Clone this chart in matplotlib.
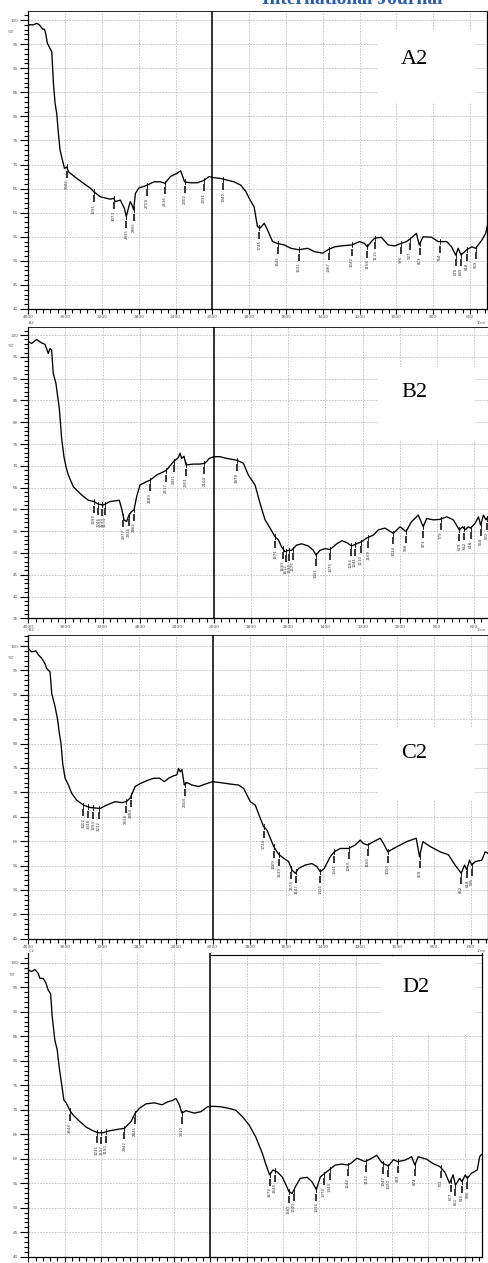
import numpy as np
import matplotlib
matplotlib.use("Agg")
import matplotlib.pyplot as plt
from matplotlib.patches import Rectangle
from matplotlib.lines import Line2D
from matplotlib.ticker import FixedLocator, MultipleLocator, FuncFormatter

# ---------------- spectra (wavenumber in 1/cm, transmittance in %T) ----------------
A_wn = [4000, 3945, 3909, 3880, 3844, 3825, 3811, 3793, 3764, 3745, 3727, 3709, 3691, 3673, 3655,
        3629, 3607, 3582, 3564, 3473, 3400, 3327, 3291, 3218, 3109, 3073, 3055, 3000, 2956, 2935,
        2909, 2891, 2873, 2855, 2836, 2800, 2709, 2636, 2564, 2516, 2455, 2382, 2345, 2327, 2302,
        2236, 2164, 2091, 2036, 2000, 1955, 1882, 1845, 1818, 1800, 1773, 1755, 1740, 1718, 1700,
        1673, 1645, 1609, 1573, 1531, 1482, 1445, 1400, 1367, 1336, 1300, 1242, 1200, 1173, 1158,
        1136, 1118, 1082, 1045, 1009, 976, 945, 927, 900, 891, 876, 855, 809, 773, 727,
        700, 678, 664, 649, 618, 591, 569, 536, 515, 504]
A_t = [99.0, 99.0, 99.3, 99.0, 98.1, 98.1, 97.2, 95.2, 94.1, 93.4, 86.9, 82.7, 80.6, 76.5, 73.0,
       70.9, 69.2, 69.5, 68.5, 67.1, 66.1, 65.1, 64.4, 63.3, 62.8, 63.0, 62.3, 62.6, 60.9, 59.2,
       61.2, 62.3, 61.6, 60.6, 64.0, 65.1, 65.7, 66.4, 66.4, 66.1, 67.5, 68.2, 68.7, 67.8, 66.4,
       66.2, 66.2, 66.7, 67.5, 67.3, 67.1, 66.4, 65.7, 64.4, 63.0, 61.2, 57.1, 56.8, 57.8, 56.4,
       54.0, 53.6, 53.3, 52.6, 52.3, 52.6, 51.9, 51.6, 52.4, 52.9, 53.1, 53.3, 54.0, 53.6, 52.9,
       54.0, 54.7, 54.9, 53.3, 53.1, 53.6, 54.0, 54.5, 55.4, 55.7, 53.3, 55.0, 54.9, 54.0, 54.0,
       52.9, 51.2, 52.6, 51.2, 52.3, 52.9, 52.6, 54.3, 55.7, 57.6]
A_peaks = [3582, 3291, 3073, 2935, 2855, 2709, 2516, 2302, 2091, 1940, 1745, 1645, 1531, 1367,
           1242, 1158, 1115, 976, 927, 873, 764, 678, 649, 618, 569]

B_wn = [4000, 3964, 3910, 3856, 3820, 3785, 3767, 3749, 3731, 3702, 3688, 3666, 3641, 3616, 3594,
        3569, 3515, 3425, 3354, 3293, 3246, 3192, 3120, 3020, 2995, 2969, 2941, 2916, 2887, 2862,
        2833, 2797, 2725, 2689, 2617, 2517, 2438, 2384, 2366, 2348, 2323, 2301, 2223, 2151, 2097,
        2050, 2000, 1968, 1932, 1878, 1842, 1815, 1779, 1752, 1725, 1698, 1671, 1653, 1636, 1618,
        1600, 1582, 1555, 1528, 1492, 1465, 1451, 1429, 1402, 1375, 1339, 1312, 1286, 1259, 1232,
        1205, 1178, 1142, 1115, 1079, 1034, 998, 966, 936, 909, 900, 873, 855, 819, 783,
        747, 711, 679, 661, 648, 630, 618, 594, 576, 564, 549, 535, 525]
B_t = [98.5, 98.1, 99.0, 98.2, 97.9, 95.8, 96.9, 96.6, 91.2, 88.9, 86.6, 83.2, 76.3, 72.1, 69.8,
       67.9, 65.2, 63.3, 62.1, 61.8, 61.2, 61.0, 61.8, 62.1, 60.2, 57.6, 57.2, 58.7, 59.5, 59.9,
       62.9, 65.6, 66.4, 66.7, 67.9, 68.9, 70.9, 71.9, 72.9, 71.7, 72.2, 70.2, 70.4, 70.4, 70.6,
       71.7, 72.1, 72.1, 71.7, 71.3, 70.6, 67.9, 65.6, 61.4, 57.6, 55.7, 53.7, 53.0, 51.4, 50.3,
       50.6, 50.6, 51.8, 52.1, 51.6, 50.6, 49.5, 50.6, 51.0, 50.8, 52.1, 52.8, 52.4, 51.6, 52.1,
       52.6, 53.4, 54.1, 55.3, 55.7, 54.5, 56.0, 54.9, 57.2, 58.3, 58.7, 56.0, 57.9, 57.6, 57.7,
       58.3, 57.6, 55.3, 56.0, 55.3, 56.0, 55.7, 56.8, 58.3, 56.4, 58.7, 57.6, 58.3]
B_peaks = [3293, 3246, 3210, 3174, 2977, 2916, 2862, 2689, 2517, 2431, 2301, 2104, 1878, 1671,
           1630, 1612, 1594, 1576, 1451, 1375, 1264, 1241, 1210, 1169, 1034, 966, 873, 779,
           679, 652, 618, 564, 532]

C_wn = [4000, 3964, 3917, 3891, 3855, 3819, 3801, 3764, 3746, 3710, 3685, 3663, 3645, 3627, 3601,
        3565, 3529, 3475, 3402, 3330, 3221, 3149, 3058, 2986, 2938, 2895, 2841, 2786, 2714, 2641,
        2576, 2525, 2478, 2424, 2388, 2370, 2351, 2333, 2308, 2279, 2225, 2152, 2080, 2000, 1958,
        1904, 1859, 1832, 1796, 1769, 1745, 1724, 1706, 1687, 1669, 1651, 1639, 1615, 1588, 1570,
        1552, 1534, 1498, 1462, 1435, 1416, 1395, 1362, 1341, 1308, 1263, 1227, 1200, 1182, 1160,
        1127, 1091, 1073, 1050, 1019, 983, 947, 896, 878, 860, 820, 766, 721, 685, 652,
        634, 622, 607, 595, 576, 540, 522, 506]
C_t = [99.5, 98.8, 99.0, 98.2, 97.5, 96.4, 95.4, 94.7, 90.3, 87.6, 85.2, 82.1, 80.0, 75.9, 72.9,
       71.5, 69.8, 68.4, 67.4, 66.9, 66.7, 67.4, 68.1, 67.9, 68.1, 68.8, 71.2, 71.8, 72.4, 72.9,
       72.9, 72.2, 72.9, 73.4, 73.6, 74.9, 74.2, 74.7, 71.5, 72.0, 71.5, 71.2, 71.7, 72.2, 72.0,
       71.7, 71.5, 70.8, 68.1, 67.4, 65.0, 63.0, 62.3, 60.6, 58.9, 57.8, 57.2, 56.5, 55.8, 54.1,
       53.4, 54.4, 55.1, 55.4, 54.8, 53.7, 54.4, 56.8, 57.8, 58.5, 58.5, 59.2, 60.2, 59.5, 59.2,
       59.9, 60.6, 59.5, 57.8, 58.5, 59.2, 59.9, 60.6, 56.8, 59.9, 58.9, 57.8, 57.2, 55.1, 53.4,
       55.1, 54.1, 56.1, 55.1, 55.8, 56.1, 57.8, 57.5]
C_peaks = [3402, 3348, 3293, 3232, 2938, 2884, 2304, 1724, 1669, 1639, 1574, 1547, 1416, 1341,
           1263, 1160, 1050, 878, 652, 618, 595]

D_wn = [4000, 3964, 3927, 3891, 3872, 3836, 3807, 3781, 3755, 3737, 3708, 3682, 3661, 3635, 3609,
        3580, 3544, 3507, 3434, 3361, 3288, 3234, 3179, 3106, 3015, 2942, 2869, 2825, 2777, 2704,
        2613, 2529, 2467, 2412, 2376, 2339, 2310, 2266, 2175, 2102, 2029, 1987, 1942, 1900, 1859,
        1823, 1786, 1750, 1713, 1695, 1673, 1655, 1631, 1604, 1582, 1567, 1549, 1531, 1504, 1467,
        1440, 1416, 1394, 1370, 1343, 1312, 1275, 1242, 1221, 1193, 1148, 1111, 1084, 1056, 1020,
        992, 969, 929, 892, 874, 856, 810, 774, 737, 710, 683, 664, 651, 628, 615,
        597, 586, 564, 531, 518, 509]
D_t = [98.5, 98.2, 98.6, 97.8, 96.8, 96.8, 95.9, 94.4, 93.7, 89.0, 84.2, 82.2, 78.8, 75.4, 72.0,
       71.3, 69.9, 68.9, 67.6, 66.4, 65.7, 65.3, 65.3, 65.7, 66.0, 66.2, 67.6, 69.3, 70.3, 71.2,
       71.4, 71.0, 71.6, 71.9, 72.3, 71.0, 69.3, 69.8, 69.3, 69.6, 70.6, 70.7, 70.6, 70.3, 69.9,
       68.6, 66.9, 64.5, 61.1, 59.0, 56.7, 57.7, 57.3, 56.3, 54.6, 53.3, 52.9, 54.3, 56.0, 56.2,
       55.3, 53.7, 56.3, 57.0, 57.8, 58.7, 58.9, 58.7, 59.2, 60.1, 59.4, 60.1, 60.7, 59.2, 58.5,
       59.8, 59.4, 59.7, 60.4, 58.7, 60.4, 59.9, 59.0, 58.4, 57.3, 55.0, 56.7, 54.6, 56.0, 55.3,
       56.7, 56.0, 57.0, 57.7, 60.4, 60.8]
D_peaks = [3544, 3245, 3197, 3150, 2942, 2825, 2310, 1673, 1644, 1567, 1540, 1416, 1376, 1343,
           1242, 1142, 1047, 1020, 969, 874, 733, 677, 651, 615, 586]

sample_names = ["A2", "B2", "C2", "D2"]
corner_tags = ["A.2", "B.2", "C.2", None]
x_major = [4000, 3600, 3200, 2800, 2400, 2000, 1800, 1600, 1400, 1200, 1000, 800, 600]

# ---------------- layout (pixels) ----------------
W, H = 488, 1263
fig = plt.figure(figsize=(W / 100, H / 100), dpi=100)
fig.patch.set_facecolor("white")


def fx(x):
    return x / W


def fy(y):
    return 1 - y / H


# Split wavenumber axis: 4000-2000 at half the scale of 2000-400
def fwd(w):
    w = np.asarray(w, dtype=float)
    return np.where(w >= 2000, (w - 2000) / 2.0, w - 2000)


def inv(u):
    u = np.asarray(u, dtype=float)
    return np.where(u >= 0, 2000 + 2 * u, 2000 + u)


x_minor = [v for v in range(3920, 2000, -80) if v % 400] + \
          [v for v in range(1960, 505, -40) if v % 200]

# left, right, top, bottom (px), ymin, ymax
layouts = [
    (28.3, 487.5, 11.0, 309.0, 40, 101.87),
    (28.3, 491.6, 327.3, 618.3, 35, 101.8),
    (28.3, 488.3, 635.3, 938.7, 40, 102.2),
    (28.3, 482.0, 953.0, 1256.7, 40, 101.98),
]
name_boxes = [
    ((378, 30, 475, 103), (414, 60)),
    ((378, 367, 475, 440), (414, 393)),
    ((378, 727, 475, 800), (414, 753)),
    ((381, 958, 475, 1035), (416, 987)),
]
tag_y = [320.5, 627.5, 948.5, None]

spectra = [(A_wn, A_t, A_peaks), (B_wn, B_t, B_peaks), (C_wn, C_t, C_peaks), (D_wn, D_t, D_peaks)]

for i, ((wn, tr, peaks), (l, r, t, b, y0, y1)) in enumerate(zip(spectra, layouts)):
    ax = fig.add_axes([fx(l), fy(b), (r - l) / W, (b - t) / H])
    ax.set_xscale("function", functions=(fwd, inv))
    ax.set_xlim(4000, 505)
    ax.set_ylim(y0, y1)
    ax.set_facecolor("white")

    ax.xaxis.set_major_locator(FixedLocator(x_major))
    ax.xaxis.set_minor_locator(FixedLocator(x_minor))
    ax.xaxis.set_major_formatter(FuncFormatter(lambda v, p: f"{v:.0f}"))
    ax.yaxis.set_major_locator(MultipleLocator(5))
    ax.yaxis.set_minor_locator(MultipleLocator(1))
    ax.yaxis.set_major_formatter(FuncFormatter(lambda v, p: f"{v:.0f}"))

    ax.tick_params(axis="x", which="major", direction="out", length=3.5, width=0.8,
                   labelsize=3.2, pad=1.0, labelcolor="#555555",
                   labelbottom=(i != 3))
    ax.tick_params(axis="x", which="minor", direction="out", length=3, width=0.8)
    ax.tick_params(axis="y", which="major", direction="out", length=6, width=0.8,
                   labelsize=3.0, pad=1.2, labelcolor="#555555")
    ax.tick_params(axis="y", which="minor", direction="out", length=3, width=0.8)

    ax.grid(which="major", color="#bdbdbd", lw=0.6, ls=(0, (2, 1.5)), zorder=1)
    ax.set_axisbelow(True)
    for s in ax.spines.values():
        s.set_linewidth(0.9)
        s.set_color("black")
    ax.spines["top"].set_linewidth(0.7)
    ax.spines["top"].set_color("#222222")
    if i == 3:
        ax.spines["top"].set_visible(False)

    ax.axvline(2000, color="black", lw=1.1, zorder=3)

    wn_a = np.asarray(wn, dtype=float)
    tr_a = np.asarray(tr, dtype=float)
    ax.plot(wn_a, tr_a, color="black", lw=0.95, zorder=4, solid_joinstyle="round")

    # peak markers with wavenumber labels
    dpp = (y1 - y0) / (b - t)
    for p in peaks:
        v = np.interp(p, wn_a[::-1], tr_a[::-1])
        ax.plot([p, p], [v + 2.5 * dpp, v - 2.5 * dpp], color="black", lw=0.6, zorder=5)
        ax.plot([p, p], [v - 4 * dpp, v - 11 * dpp], color="black", lw=1.1, zorder=5,
                solid_capstyle="butt")
        ax.text(p, v - 12.5 * dpp, f"{p:.0f}", rotation=90, ha="center", va="top",
                fontsize=2.8, color="#333333", zorder=5)

    ax.text(-0.03, 97.5, "%T", transform=ax.get_yaxis_transform(), ha="right", va="center",
            fontsize=3.0, color="#555555")

    (bl, bt, br, bb), (tx, ty) = name_boxes[i]
    fig.add_artist(Rectangle((fx(bl), fy(bb)), (br - bl) / W, (bb - bt) / H,
                             transform=fig.transFigure, facecolor="white",
                             edgecolor="none", zorder=10))
    fig.text(fx(tx), fy(ty), sample_names[i], fontsize=16, family="Liberation Serif",
             ha="center", va="center", color="black", zorder=11)

    if tag_y[i] is not None:
        fig.text(fx(32), fy(tag_y[i]), corner_tags[i], fontsize=2.6, color="#555555",
                 ha="center", va="top")
        fig.text(fx(481), fy(tag_y[i]), "1/cm", fontsize=2.6, color="#555555",
                 ha="center", va="top")

# partial top border of the last panel
fig.add_artist(Line2D([fx(211), fx(482)], [fy(955), fy(955)], transform=fig.transFigure,
                      color="black", lw=0.8, zorder=12))

# journal header running off the top edge
fig.text(fx(262), fy(4), "International Journal", color="#2a5ca8", fontsize=14,
         fontweight="bold", family="Liberation Serif", ha="left", va="baseline")

fig.savefig("out.png", dpi=100, facecolor="white")
